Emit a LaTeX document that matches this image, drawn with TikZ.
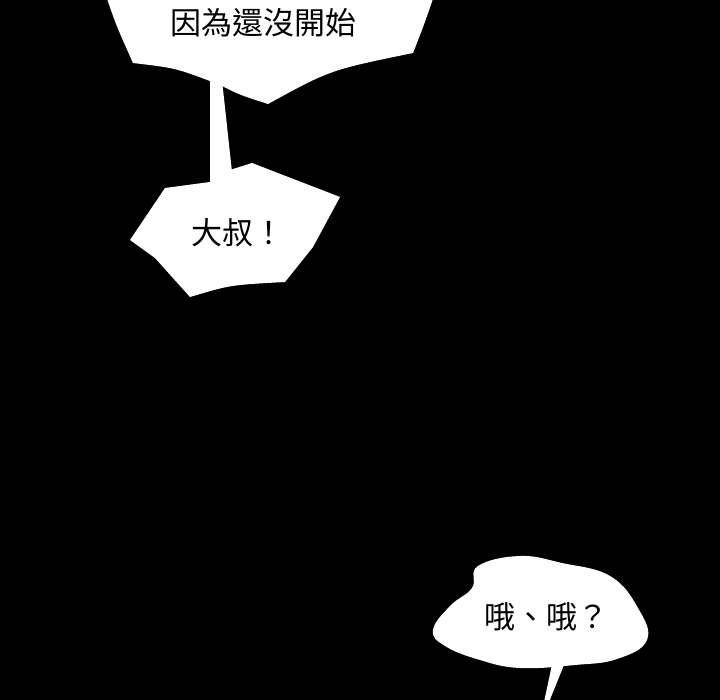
\documentclass[tikz,border=0pt]{standalone}
\usepackage{fontspec}
\newfontfamily\cjk{Noto Sans CJK TC}
\usepackage{tikz}

\begin{document}
\begin{tikzpicture}[x=1pt, y=-1pt, bubble/.style={fill=white, draw=none}, every node/.style={inner sep=0pt, font=\cjk\fontsize{31}{31}\selectfont}]
  \fill[black] (0,0) rectangle (720,700);
  \clip (0,0) rectangle (720,700);
  % top bubble
  \fill[bubble] (104,-10) .. controls (116,25) .. (133,63) .. controls (175,68) .. (210,81)
    -- (222,86) .. controls (240,95) .. (268,104) .. controls (330,70) .. (413,53)
    .. controls (424,25) .. (436,-10) -- cycle;
  \fill[bubble] (210,78) -- (210,184) -- (232,172) -- (222,80) -- cycle;
  % middle bubble
  \fill[bubble] (210,182) -- (165,188) -- (130,240) -- (155,258) -- (190,297)
    .. controls (230,285) .. (285,282) -- (313,247) -- (340,197) -- (252,163) -- (230,170) -- cycle;
  % bottom bubble
  \fill[bubble] plot[smooth cycle, tension=0.7] coordinates {(478,566) (520,556) (562,563) (610,576) (638,608) (647,640) (617,659) (575,665) (520,668) (480,660) (445,646) (433,630) (450,606) (472,588)};
  \fill[bubble] (553,660) -- (544,702) -- (549,702) -- (566,660) -- cycle;
  \node (start) at (263,23) {因為還沒開始};
  \node (uncle) at (238,233) {大叔！};
  \node (oh) at (546,617) {哦、哦？};
\end{tikzpicture}
\end{document}
